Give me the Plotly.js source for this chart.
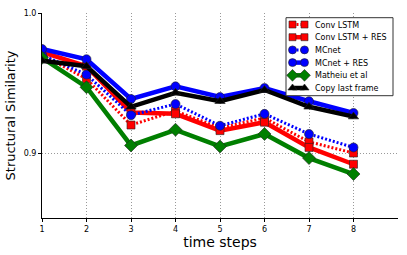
<!DOCTYPE html>
<html>
<head>
<meta charset="utf-8">
<script src="https://cdn.plot.ly/plotly-3.0.1.min.js"></script>
<style>html,body{margin:0;padding:0;background:#fff;}#chart{width:407px;height:255px;}</style>
</head>
<body>
<div id="chart"></div>
<script>
const steps = [1, 2, 3, 4, 5, 6, 7, 8];
const seriesNames = ['Conv LSTM', 'Conv LSTM + RES', 'MCnet', 'MCnet + RES', 'Matheiu et al', 'Copy last frame'];
const convLSTM    = [0.970, 0.953, 0.920, 0.930, 0.918, 0.925, 0.908, 0.900];
const convLSTMRes = [0.972, 0.962, 0.929, 0.928, 0.916, 0.922, 0.904, 0.892];
const mcnet       = [0.970, 0.956, 0.927, 0.935, 0.9195, 0.928, 0.9136, 0.904];
const mcnetRes    = [0.9743, 0.967, 0.9386, 0.9476, 0.940, 0.9464, 0.937, 0.9286];
const mathieu     = [0.968, 0.947, 0.9054, 0.9166, 0.9047, 0.9136, 0.8964, 0.885];
const copyLast    = [0.966, 0.962, 0.933, 0.943, 0.937, 0.945, 0.933, 0.926];
const xTicks = [1, 2, 3, 4, 5, 6, 7, 8];
const yTicks = [0.9, 1.0];
const yTickText = ['0.9', '1.0'];

const seriesValues = [convLSTM, convLSTMRes, mcnet, mcnetRes, mathieu, copyLast];
const styles = [
  {color: '#ff0000', dash: '2px,2px', width: 3, symbol: 'square', size: 8},
  {color: '#ff0000', dash: 'solid', width: 4.5, symbol: 'square', size: 8},
  {color: '#0000ff', dash: '2px,2px', width: 3, symbol: 'circle', size: 9},
  {color: '#0000ff', dash: 'solid', width: 4.5, symbol: 'circle', size: 9},
  {color: '#007f00', dash: 'solid', width: 4.5, symbol: 'diamond', size: 10},
  {color: '#000000', dash: 'solid', width: 4.5, symbol: 'triangle-up', size: 9}
];

const data = seriesValues.map((vals, i) => ({
  x: steps, y: vals, name: seriesNames[i], type: 'scatter', mode: 'lines+markers',
  showlegend: false,
  line: {color: styles[i].color, width: styles[i].width, dash: styles[i].dash},
  marker: {color: styles[i].color, symbol: styles[i].symbol, size: styles[i].size, line: {color: '#222', width: 0.6}}
}));

// custom compact legend drawn on an overlay pixel-coordinate axis pair
const box = {x0: 286, x1: 393, y0: 17.7, y1: 95.7};
const rowY = i => 24.5 + i * 12.7;
data.push({
  x: [box.x0, box.x1, box.x1, box.x0, box.x0], y: [box.y0, box.y0, box.y1, box.y1, box.y0],
  xaxis: 'x2', yaxis: 'y2', type: 'scatter', mode: 'lines', fill: 'toself',
  fillcolor: '#fff', line: {color: '#333', width: 1}, showlegend: false, hoverinfo: 'skip'
});
const annotations = [];
seriesNames.forEach((nm, i) => {
  const s = styles[i];
  data.push({
    x: [292.5, 304.5], y: [rowY(i), rowY(i)], xaxis: 'x2', yaxis: 'y2',
    type: 'scatter', mode: 'lines+markers', showlegend: false, hoverinfo: 'skip',
    line: {color: s.color, width: s.width, dash: s.dash},
    marker: {color: s.color, symbol: s.symbol, size: s.size - 1, line: {color: '#222', width: 0.6}}
  });
  annotations.push({
    xref: 'x2', yref: 'y2', x: 313, y: rowY(i) + 0.5, text: nm, showarrow: false,
    xanchor: 'left', yanchor: 'middle', font: {family: 'DejaVu Sans', size: 8, color: '#000'}
  });
});

const layout = {
  width: 407, height: 255,
  margin: {l: 42, r: 9, t: 13, b: 37},
  paper_bgcolor: '#fff', plot_bgcolor: '#fff',
  font: {family: 'DejaVu Sans', size: 8, color: '#000'},
  showlegend: false,
  annotations: annotations,
  xaxis: {
    range: [1, 9], tickvals: xTicks, ticktext: xTicks.map(String),
    showgrid: true, gridcolor: '#999', griddash: '1px,2px', gridwidth: 1,
    zeroline: false, showline: true, linecolor: '#000', linewidth: 1,
    ticks: 'outside', ticklen: 3, tickcolor: '#000',
    tickfont: {family: 'DejaVu Sans', size: 8},
    title: {text: 'time steps', font: {family: 'DejaVu Sans', size: 14}, standoff: 4}
  },
  yaxis: {
    range: [0.8536, 1.0], tickvals: yTicks, ticktext: yTickText,
    showgrid: true, gridcolor: '#999', griddash: '1px,2px', gridwidth: 1,
    zeroline: false, showline: true, linecolor: '#000', linewidth: 1,
    ticks: 'outside', ticklen: 3, tickcolor: '#000',
    tickfont: {family: 'DejaVu Sans', size: 8},
    title: {text: 'Structural Similarity', font: {family: 'DejaVu Sans', size: 13}, standoff: 5}
  },
  xaxis2: {overlaying: 'x', range: [42, 398], visible: false, fixedrange: true},
  yaxis2: {overlaying: 'y', range: [218, 13], visible: false, fixedrange: true}
};
Plotly.newPlot('chart', data, layout, {displayModeBar: false, staticPlot: true});
</script>
</body>
</html>
